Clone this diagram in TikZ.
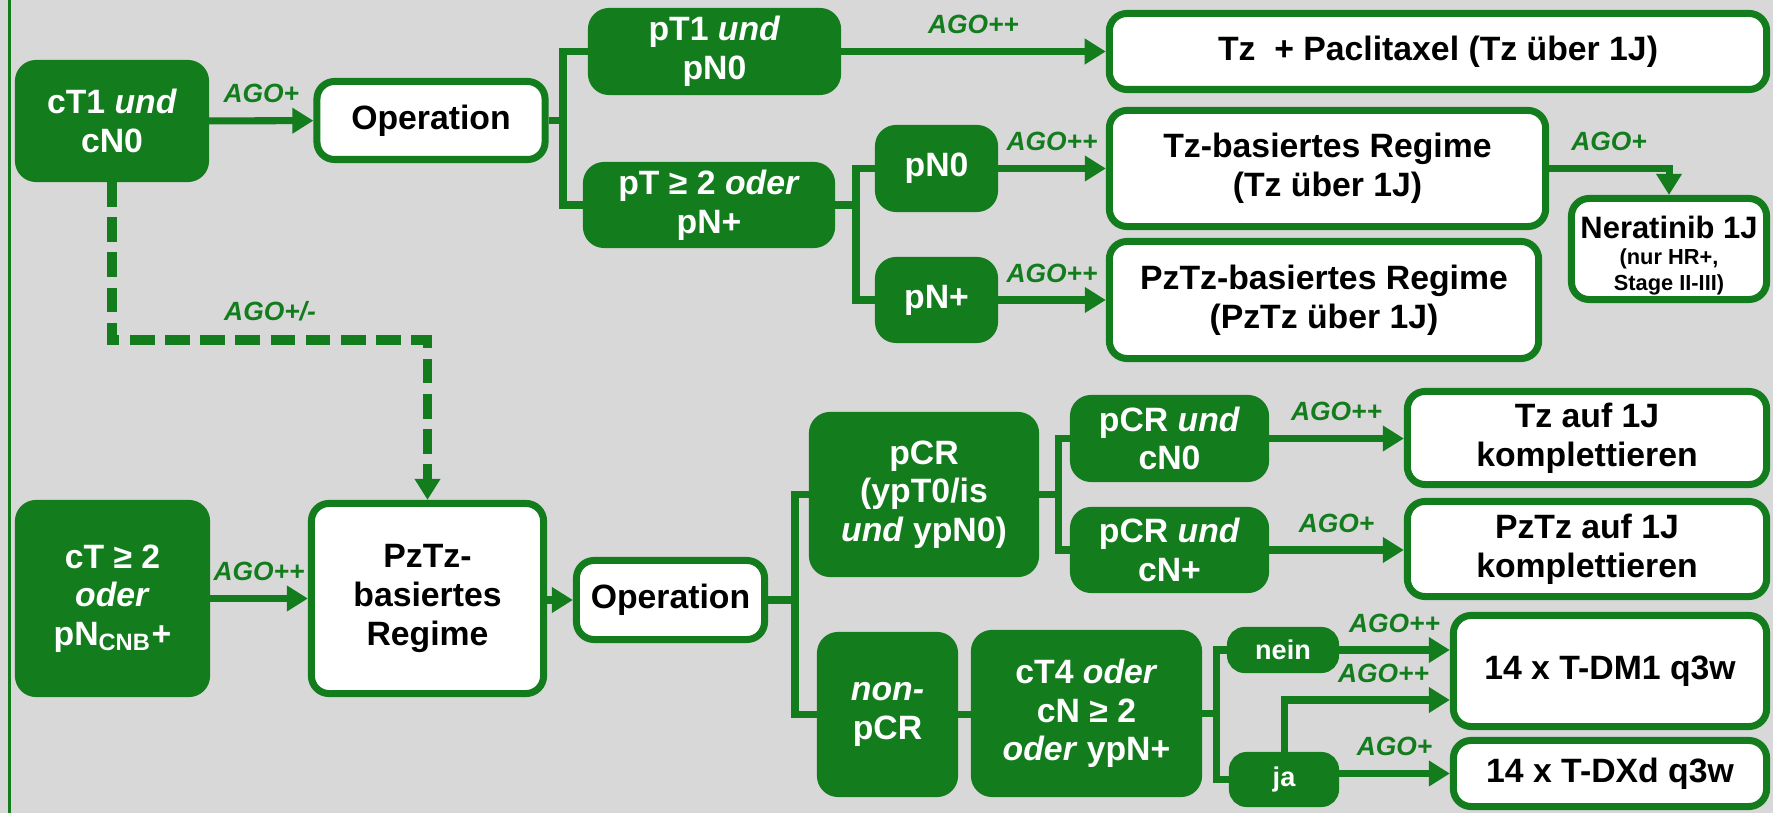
\documentclass[tikz,border=0pt]{standalone}
\usepackage{fontspec}
\setmainfont{Liberation Sans}
\usetikzlibrary{arrows.meta,positioning,calc}
\definecolor{agogreen}{RGB}{19,125,30}
\definecolor{agogray}{RGB}{216,216,216}
\tikzset{
  darkbox/.style={draw=agogreen, fill=agogreen, line width=2pt, rounded corners=5pt, text=white, align=center, inner sep=0pt, font=\fontsize{9.6}{11}\selectfont\bfseries},
  lightbox/.style={darkbox, fill=white, text=black},
  smallbox/.style={rounded corners=4pt, font=\fontsize{7.7}{9}\selectfont\bfseries},
  conn/.style={agogreen, line width=2pt},
  arr/.style={conn, -{Triangle[length=6pt,width=7pt]}},
  dashconn/.style={arr, line width=2.8pt, dash pattern=on 7pt off 3pt},
  ago/.style={text=agogreen, font=\fontsize{7.5}{9}\selectfont\bfseries\itshape, inner sep=1pt, above=3pt},
}

\begin{document}
\begin{tikzpicture}[x=0.01cm, y=-0.01cm]
  \useasboundingbox (0,0) rectangle (1773,813);
  \fill[agogray] (0,0) rectangle (1773,813);
  \draw[agogreen, line width=1pt] (9.5,0) -- (9.5,813);
  % Top: cT1 und cN0
  \node[darkbox, minimum width=1.87cm, minimum height=1.15cm] (cti) at (112,121) {cT1 \textit{und}\\cN0};
  \node[lightbox, minimum width=2.28cm, minimum height=0.78cm] (opa) at (431,120.5) {Operation};
  \node[darkbox, minimum width=2.46cm, minimum height=0.80cm] (ptone) at (714.5,51.5) {pT1 \textit{und}\\pN0};
  \node[darkbox, minimum width=2.45cm, minimum height=0.79cm] (ptsplit) at (709,205) {pT ≥ 2 \textit{oder}\\pN+};
  \node[darkbox, minimum width=1.16cm, minimum height=0.80cm] (pnnull) at (936.5,168.5) {pN0};
  \node[darkbox, minimum width=1.16cm, minimum height=0.79cm] (pnplus) at (936.5,300) {pN+};
  \node[lightbox, minimum width=6.57cm, minimum height=0.76cm] (tzpac) at (1438,51.5) {Tz~ + Paclitaxel (Tz über 1J)};
  \node[lightbox, minimum width=4.36cm, minimum height=1.16cm] (tzreg) at (1327.5,168.5) {Tz-basiertes Regime\\(Tz über 1J)};
  \node[lightbox, minimum width=4.29cm, minimum height=1.17cm] (pztzreg) at (1324,300) {PzTz-basiertes Regime\\(PzTz über 1J)};
  \node[lightbox, minimum width=1.95cm, minimum height=1.01cm, font=\fontsize{8.8}{7.4}\selectfont\bfseries] (nerat) at (1669,249)
    {\rule{0pt}{10pt}Neratinib 1J\\[0pt]\fontsize{6.2}{7.4}\selectfont(nur HR+,\\\fontsize{6.2}{7.4}\selectfont Stage II-III)};
  \draw[arr] (cti) -- (opa) node[ago,midway] (agoa) {AGO+};
  \coordinate (spa) at (563,120.5);
  \draw[conn] (opa) -- (spa);
  \draw[conn] (ptone.west) -| (spa) |- (ptsplit.west);
  \draw[arr] (ptone) -- (tzpac) node[ago,midway] (agob) {AGO++};
  \coordinate (spb) at (856,205);
  \draw[conn] (ptsplit) -- (spb);
  \draw[conn] (pnnull.west) -| (spb) |- (pnplus.west);
  \draw[arr] (pnnull) -- (tzreg) node[ago,midway] (agoc) {AGO++};
  \draw[arr] (pnplus) -- (pztzreg) node[ago,midway] (agod) {AGO++};
  \draw[arr] (tzreg.east) -| (nerat.north) node[ago,pos=0.25] (agoe) {AGO+};
  % Dashed way down
  \coordinate (dk) at (270,340);
  % Bottom: cT >= 2
  \node[darkbox, minimum width=1.88cm, minimum height=1.90cm] (ctzwei) at (112.5,598.5) {cT ≥ 2\\\textit{oder}\\pN\textsubscript{CNB}+};
  \node[lightbox, minimum width=2.32cm, minimum height=1.90cm] (pztzneo) at (427.5,598.5) {PzTz-\\basiertes\\Regime};
  \draw[dashconn] (cti.south) |- (dk) node[ago] (agof) {AGO+/-} -| (pztzneo.north);
  \node[lightbox, minimum width=1.88cm, minimum height=0.79cm] (opb) at (670.5,600) {Operation};
  \node[darkbox, minimum width=2.23cm, minimum height=1.58cm] (pcr) at (924,494.5) {pCR\\(ypT0/is\\\textit{und} ypN0)};
  \node[darkbox, minimum width=1.34cm, minimum height=1.58cm] (nonpcr) at (887.5,714.5) {\textit{non-}\\pCR};
  \node[darkbox, minimum width=2.24cm, minimum height=1.60cm] (ctvier) at (1086.5,713.5) {cT4 \textit{oder}\\cN ≥ 2\\\textit{oder} ypN+};
  \node[darkbox, minimum width=1.92cm, minimum height=0.80cm] (pcrcnnull) at (1169.5,438.5) {pCR \textit{und}\\cN0};
  \node[darkbox, minimum width=1.92cm, minimum height=0.79cm] (pcrcnplus) at (1169.5,550) {pCR \textit{und}\\cN+};
  \node[lightbox, minimum width=3.59cm, minimum height=0.93cm] (tzkompl) at (1587,438) {Tz auf 1J\\komplettieren};
  \node[lightbox, minimum width=3.59cm, minimum height=0.95cm] (pztzkompl) at (1587,549) {PzTz auf 1J\\komplettieren};
  \node[lightbox, minimum width=3.13cm, minimum height=1.11cm] (tdm) at (1610,671) {14 x T-DM1 q3w};
  \node[lightbox, minimum width=3.13cm, minimum height=0.66cm] (tdxd) at (1610,773.5) {14 x T-DXd q3w};
  \node[darkbox, smallbox, minimum width=1.05cm, minimum height=0.39cm] (nein) at (1283,650) {nein};
  \node[darkbox, smallbox, minimum width=1.03cm, minimum height=0.48cm] (ja) at (1284,779.5) {ja};
  \draw[arr] (ctzwei) -- (ctzwei -| pztzneo.west) node[ago,midway] (agog) {AGO++};
  \draw[arr] (pztzneo.east |- opb) -- (opb.west);
  \coordinate (spc) at (795,600);
  \draw[conn] (opb) -- (spc);
  \draw[conn] (pcr.west) -| (spc) |- (nonpcr.west);
  \draw[conn] (nonpcr.east) -- (nonpcr.east -| ctvier.west);
  \coordinate (spd) at (1058,494.5);
  \draw[conn] (pcr) -- (spd);
  \draw[conn] (pcrcnnull.west) -| (spd) |- (pcrcnplus.west);
  \draw[arr] (pcrcnnull) -- (pcrcnnull -| tzkompl.west) node[ago,midway] (agoh) {AGO++};
  \draw[arr] (pcrcnplus) -- (pcrcnplus -| pztzkompl.west) node[ago,midway] (agoi) {AGO+};
  \coordinate (spe) at (1216,713.5);
  \draw[conn] (ctvier) -- (spe);
  \draw[conn] (nein.west) -| (spe) |- (ja.west);
  \draw[arr] (nein.east) -- (nein.east -| tdm.west) node[ago,midway] (agoj) {AGO++};
  \draw[arr] (ja.north) |- ($(tdm.west)+(0,29)$) node[ago,pos=0.8] (agok) {AGO++};
  \draw[arr] (ja.east |- tdxd) -- (tdxd.west) node[ago,midway] (agol) {AGO+};
\end{tikzpicture}
\end{document}
